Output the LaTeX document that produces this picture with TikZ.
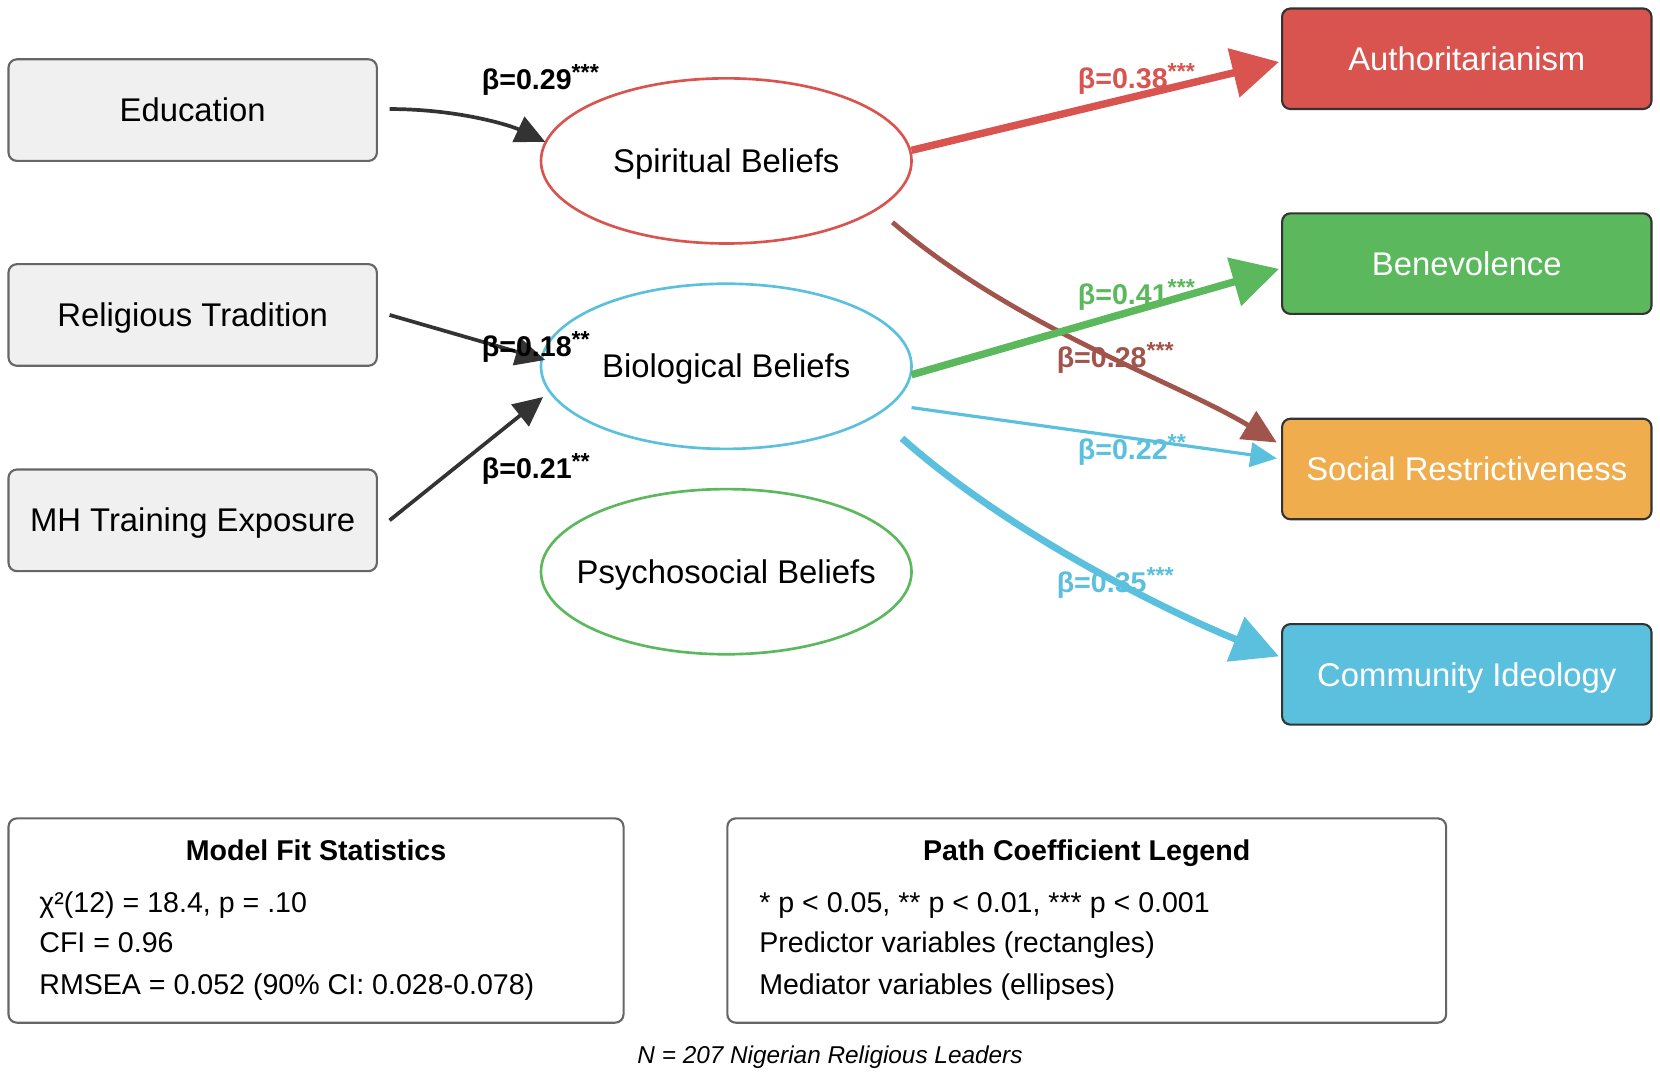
\documentclass[tikz,border=0pt]{standalone}
\usepackage{fontspec}
\setmainfont{Liberation Sans}
\usetikzlibrary{arrows.meta,shapes.geometric,calc}
\definecolor{cred}{HTML}{D9534F}
\definecolor{cgreen}{HTML}{5CB85C}
\definecolor{corange}{HTML}{F0AD4E}
\definecolor{ccyan}{HTML}{5BC0DE}
\definecolor{cbrown}{HTML}{A0544C}
\definecolor{cdark}{HTML}{333333}
\definecolor{cbox}{HTML}{F0F0F0}
\definecolor{cborder}{HTML}{666666}
\newcommand\sigstars[1]{\raisebox{8.5pt}{\fontsize{22}{22}\selectfont #1}}
\newcommand\ztext[1]{\makebox[0pt]{#1}}
\begin{document}
\begin{tikzpicture}[x=1pt,y=-1pt,
  predbox/.style={draw=cborder,line width=2pt,fill=cbox,rounded corners=8pt,
    minimum width=348pt,minimum height=96pt,inner sep=0pt,
    text height=22pt,text depth=0pt,font=\fontsize{31}{37}\selectfont},
  medell/.style={ellipse,line width=2.5pt,fill=white,minimum width=350pt,
    minimum height=156pt,inner sep=0pt,text height=22pt,text depth=0pt,
    font=\fontsize{31}{37}\selectfont},
  outbox/.style={draw=cdark,line width=2pt,rounded corners=8pt,
    minimum width=349pt,minimum height=95pt,inner sep=0pt,text=white,
    text height=22pt,text depth=0pt,font=\fontsize{31}{37}\selectfont},
  infobox/.style={draw=cborder,line width=2pt,rounded corners=8pt,inner sep=0pt},
  infotitle/.style={inner sep=0pt,anchor=base,font=\bfseries\fontsize{27}{32}\selectfont},
  infoline/.style={inner sep=0pt,anchor=base west,font=\fontsize{27}{32}\selectfont},
  blab/.style={inner sep=0pt,anchor=base west,font=\bfseries\fontsize{27}{32}\selectfont},
  blkarrow/.style={draw=cdark,line width=3.5pt,-{Triangle[length=28pt,width=26pt]}},
  bigarrow/.style={line width=7pt,-{Triangle[length=44pt,width=46pt]}},
  midarrow/.style={line width=4.5pt,-{Triangle[length=32pt,width=30pt]}},
  thinarrow/.style={line width=3pt,-{Triangle[length=25pt,width=23pt]}},
  thickarrow/.style={line width=6.5pt,-{Triangle[length=44pt,width=44pt]}}
]
\fill[white] (0,0) rectangle (1568,1017);
\useasboundingbox (0,0) rectangle (1568,1017);

% predictors
\node[predbox] (edu) at (182,104) {Education};
\node[predbox] (rel) at (182,297.5) {Religious Tradition};
\node[predbox] (mh) at (182,491.5) {MH Training Exposure};

% mediators
\node[medell,draw=cred] (spir) at (686,152) {\ztext{Spiritual Beliefs}};
\node[medell,draw=ccyan] (bio) at (686,346) {\ztext{Biological Beliefs}};
\node[medell,draw=cgreen] (psy) at (686,540) {\ztext{Psychosocial Beliefs}};

% outcomes
\node[outbox,fill=cred] (auth) at (1385.5,55.5) {Authoritarianism};
\node[outbox,fill=cgreen] (ben) at (1385.5,249) {Benevolence};
\node[outbox,fill=corange] (soc) at (1385.5,443) {Social Restrictiveness};
\node[outbox,fill=ccyan] (com) at (1385.5,637) {Community Ideology};

% predictor paths
\draw[blkarrow] ($(edu.east)+(11,-1)$) .. controls ($(edu.east)+(75,-1)$) and ($(spir.center)+(-205,-34)$) .. ($(spir.center)+(-171,-18)$);
\draw[blkarrow] ($(rel.east)+(11,0)$) -- ($(bio.center)+(-171,-6)$);
\draw[blkarrow] ($(mh.east)+(11,0)$) -- ($(bio.center)+(-173,29)$);

% mediator paths
\draw[bigarrow,draw=cred] ($(spir.center)+(175,-10)$) -- ($(auth.west)+(-2,3)$);
\draw[midarrow,draw=cbrown] ($(spir.center)+(157,58)$) .. controls ($(spir.center)+(274,158)$) and ($(soc.west)+(-100,-83)$) .. ($(soc.west)+(-4,-25)$);
\draw[bigarrow,draw=cgreen] ($(bio.center)+(175,8)$) -- ($(ben.west)+(-2,5)$);
\draw[thinarrow,draw=ccyan] ($(bio.center)+(175,39)$) -- ($(soc.west)+(-4,-10)$);
\draw[thickarrow,draw=ccyan] ($(bio.center)+(166,68)$) .. controls ($(bio.center)+(274,164)$) and ($(com.west)+(-90,-52)$) .. ($(com.west)+(-2,-17)$);

% path labels
\node[blab,text=black] (l1) at (455,85) {β=0.29\sigstars{***}};
\node[blab,text=black] (l2) at (455,337) {β=0.18\sigstars{**}};
\node[blab,text=black] (l3) at (455,452) {β=0.21\sigstars{**}};
\node[blab,text=cred] (l4) at (1018,84) {β=0.38\sigstars{***}};
\node[blab,text=cgreen] (l5) at (1018,288) {β=0.41\sigstars{***}};
\node[blab,text=cbrown] (l6) at (998,347) {β=0.28\sigstars{***}};
\node[blab,text=ccyan] (l7) at (1018,434) {β=0.22\sigstars{**}};
\node[blab,text=ccyan] (l8) at (998,560) {β=0.35\sigstars{***}};

% info boxes
\node[infobox,minimum width=581pt,minimum height=193pt] (fitbox) at (298.5,869.5) {};
\node[infotitle] (fittitle) at (298.5,813) {Model Fit Statistics};
\node[infoline] (fit1) at (37,862) {χ²(12) = 18.4, p = .10};
\node[infoline] (fit2) at (37,900) {CFI = 0.96};
\node[infoline] (fit3) at (37,939) {RMSEA = 0.052 (90\% CI: 0.028-0.078)};

\node[infobox,minimum width=679pt,minimum height=193pt] (legbox) at (1026.5,869.5) {};
\node[infotitle] (legtitle) at (1026.5,813) {Path Coefficient Legend};
\node[infoline] (leg1) at (717,862) {* p < 0.05, ** p < 0.01, *** p < 0.001};
\node[infoline] (leg2) at (717,900) {Predictor variables (rectangles)};
\node[infoline] (leg3) at (717,939) {Mediator variables (ellipses)};

\node[inner sep=0pt,anchor=base,font=\itshape\fontsize{23}{28}\selectfont] (note) at (784,1005) {N = 207 Nigerian Religious Leaders};
\end{tikzpicture}
\end{document}
